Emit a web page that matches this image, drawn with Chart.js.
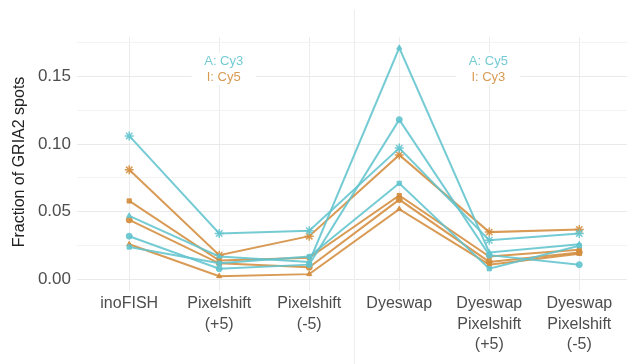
<!DOCTYPE html>
<html>
<head>
<meta charset="utf-8">
<script src="https://cdn.jsdelivr.net/npm/chart.js@4"></script>
<style>
  html, body { margin: 0; padding: 0; background: #fff; }
  #wrap { width: 633px; height: 364px; }
</style>
</head>
<body>
<div id="wrap"><canvas id="chart"></canvas></div>
<script>
const categories = [
    ["inoFISH"],
    ["Pixelshift", "(+5)"],
    ["Pixelshift", "(-5)"],
    ["Dyeswap"],
    ["Dyeswap", "Pixelshift", "(+5)"],
    ["Dyeswap", "Pixelshift", "(-5)"]
];

// cyan = A channel, orange = I channel, one line per replicate
const cyanStar = [0.106, 0.034, 0.036, 0.097, 0.029, 0.034];
const cyanTriangle = [0.047, 0.017, 0.013, 0.171, 0.020, 0.026];
const cyanCircle = [0.032, 0.008, 0.011, 0.118, 0.018, 0.011];
const cyanSquare = [0.024, 0.012, 0.017, 0.071, 0.008, 0.025];

const orangeStar = [0.081, 0.018, 0.032, 0.092, 0.035, 0.037];
const orangeSquare = [0.058, 0.014, 0.016, 0.062, 0.017, 0.022];
const orangeCircle = [0.044, 0.012, 0.009, 0.059, 0.013, 0.020];
const orangeTriangle = [0.026, 0.0025, 0.004, 0.052, 0.011, 0.019];

const yTicks = [0, 0.025, 0.05, 0.075, 0.1, 0.125, 0.15, 0.175];

const leftNote = ["A: Cy3", "I: Cy5"];
const rightNote = ["A: Cy5", "I: Cy3"];

const cyan = "rgba(98, 196, 206, 0.88)";
const orange = "rgba(211, 140, 60, 0.88)";
const tickColor = "#4d4d4d";

function makeSeries(values, color, style) {
    return {
        data: values.map((v, i) => ({ x: i, y: v })),
        borderColor: color,
        backgroundColor: color,
        borderWidth: 2,
        pointStyle: style,
        pointRadius: style === "star" ? 4.5 : 3,
        pointBorderWidth: style === "star" ? 1.5 : 1,
        tension: 0
    };
}

const notesPlugin = {
    id: "notes",
    beforeDatasetsDraw(chart) {
        const ctx = chart.ctx;
        const x = chart.scales.x;
        // separator between the two panels
        const sepX = Math.round(x.getPixelForValue(2.5)) + 0.5;
        ctx.save();
        ctx.strokeStyle = "#ededed";
        ctx.lineWidth = 1;
        ctx.beginPath();
        ctx.moveTo(sepX, 10);
        ctx.lineTo(sepX, chart.height);
        ctx.stroke();

        ctx.font = "13px 'Liberation Sans', Arial, sans-serif";
        ctx.textAlign = "center";
        ctx.textBaseline = "middle";
        const drawNote = (lines, cx) => {
            ctx.fillStyle = "#fff";
            ctx.fillRect(cx - 32, 53, 64, 32);
            ctx.fillStyle = cyan;
            ctx.fillText(lines[0], cx, 61);
            ctx.fillStyle = orange;
            ctx.fillText(lines[1], cx, 77);
        };
        drawNote(leftNote, x.getPixelForValue(1.05));
        drawNote(rightNote, x.getPixelForValue(3.99));
        ctx.restore();
    }
};

new Chart(document.getElementById("chart"), {
    type: "line",
    data: {
        datasets: [
            makeSeries(cyanStar, cyan, "star"),
            makeSeries(cyanTriangle, cyan, "triangle"),
            makeSeries(cyanCircle, cyan, "circle"),
            makeSeries(cyanSquare, cyan, "rect"),
            makeSeries(orangeStar, orange, "star"),
            makeSeries(orangeSquare, orange, "rect"),
            makeSeries(orangeCircle, orange, "circle"),
            makeSeries(orangeTriangle, orange, "triangle")
        ]
    },
    options: {
        responsive: true,
        maintainAspectRatio: false,
        animation: false,
        layout: { padding: { top: 37, right: 0, left: 4, bottom: 0 } },
        plugins: {
            legend: { display: false },
            tooltip: { enabled: false }
        },
        scales: {
            x: {
                type: "linear",
                min: -0.58,
                max: 5.53,
                afterBuildTicks: (scale) => {
                    scale.ticks = categories.map((c, i) => ({ value: i }));
                },
                afterFit: (scale) => { scale.height = 77; },
                border: { display: false },
                grid: { color: "#ececec", drawTicks: true, tickLength: 4, tickColor: "#ececec" },
                ticks: {
                    autoSkip: false,
                    maxRotation: 0,
                    padding: 2,
                    color: tickColor,
                    font: { family: "'Liberation Sans', Arial, sans-serif", size: 16, lineHeight: 1.3 },
                    callback: (v) => categories[v]
                }
            },
            y: {
                min: -0.0055,
                max: 0.179,
                afterBuildTicks: (scale) => {
                    scale.ticks = yTicks.map((v) => ({ value: v }));
                },
                afterFit: (scale) => { scale.width = 73; },
                border: { display: false },
                grid: {
                    drawTicks: false,
                    color: (c) => (Math.round(c.tick.value * 1000) % 50 === 0 ? "#e9e9e9" : "#f3f3f3")
                },
                title: {
                    display: true,
                    text: "Fraction of GRIA2 spots",
                    color: "#222",
                    padding: { top: 6, bottom: 0 },
                    font: { family: "'Liberation Sans', Arial, sans-serif", size: 16 }
                },
                ticks: {
                    padding: 6,
                    color: tickColor,
                    font: { family: "'Liberation Sans', Arial, sans-serif", size: 17 },
                    callback: (v) => (Math.round(v * 1000) % 50 === 0 ? v.toFixed(2) : "")
                }
            }
        }
    },
    plugins: [notesPlugin]
});
</script>
</body>
</html>
